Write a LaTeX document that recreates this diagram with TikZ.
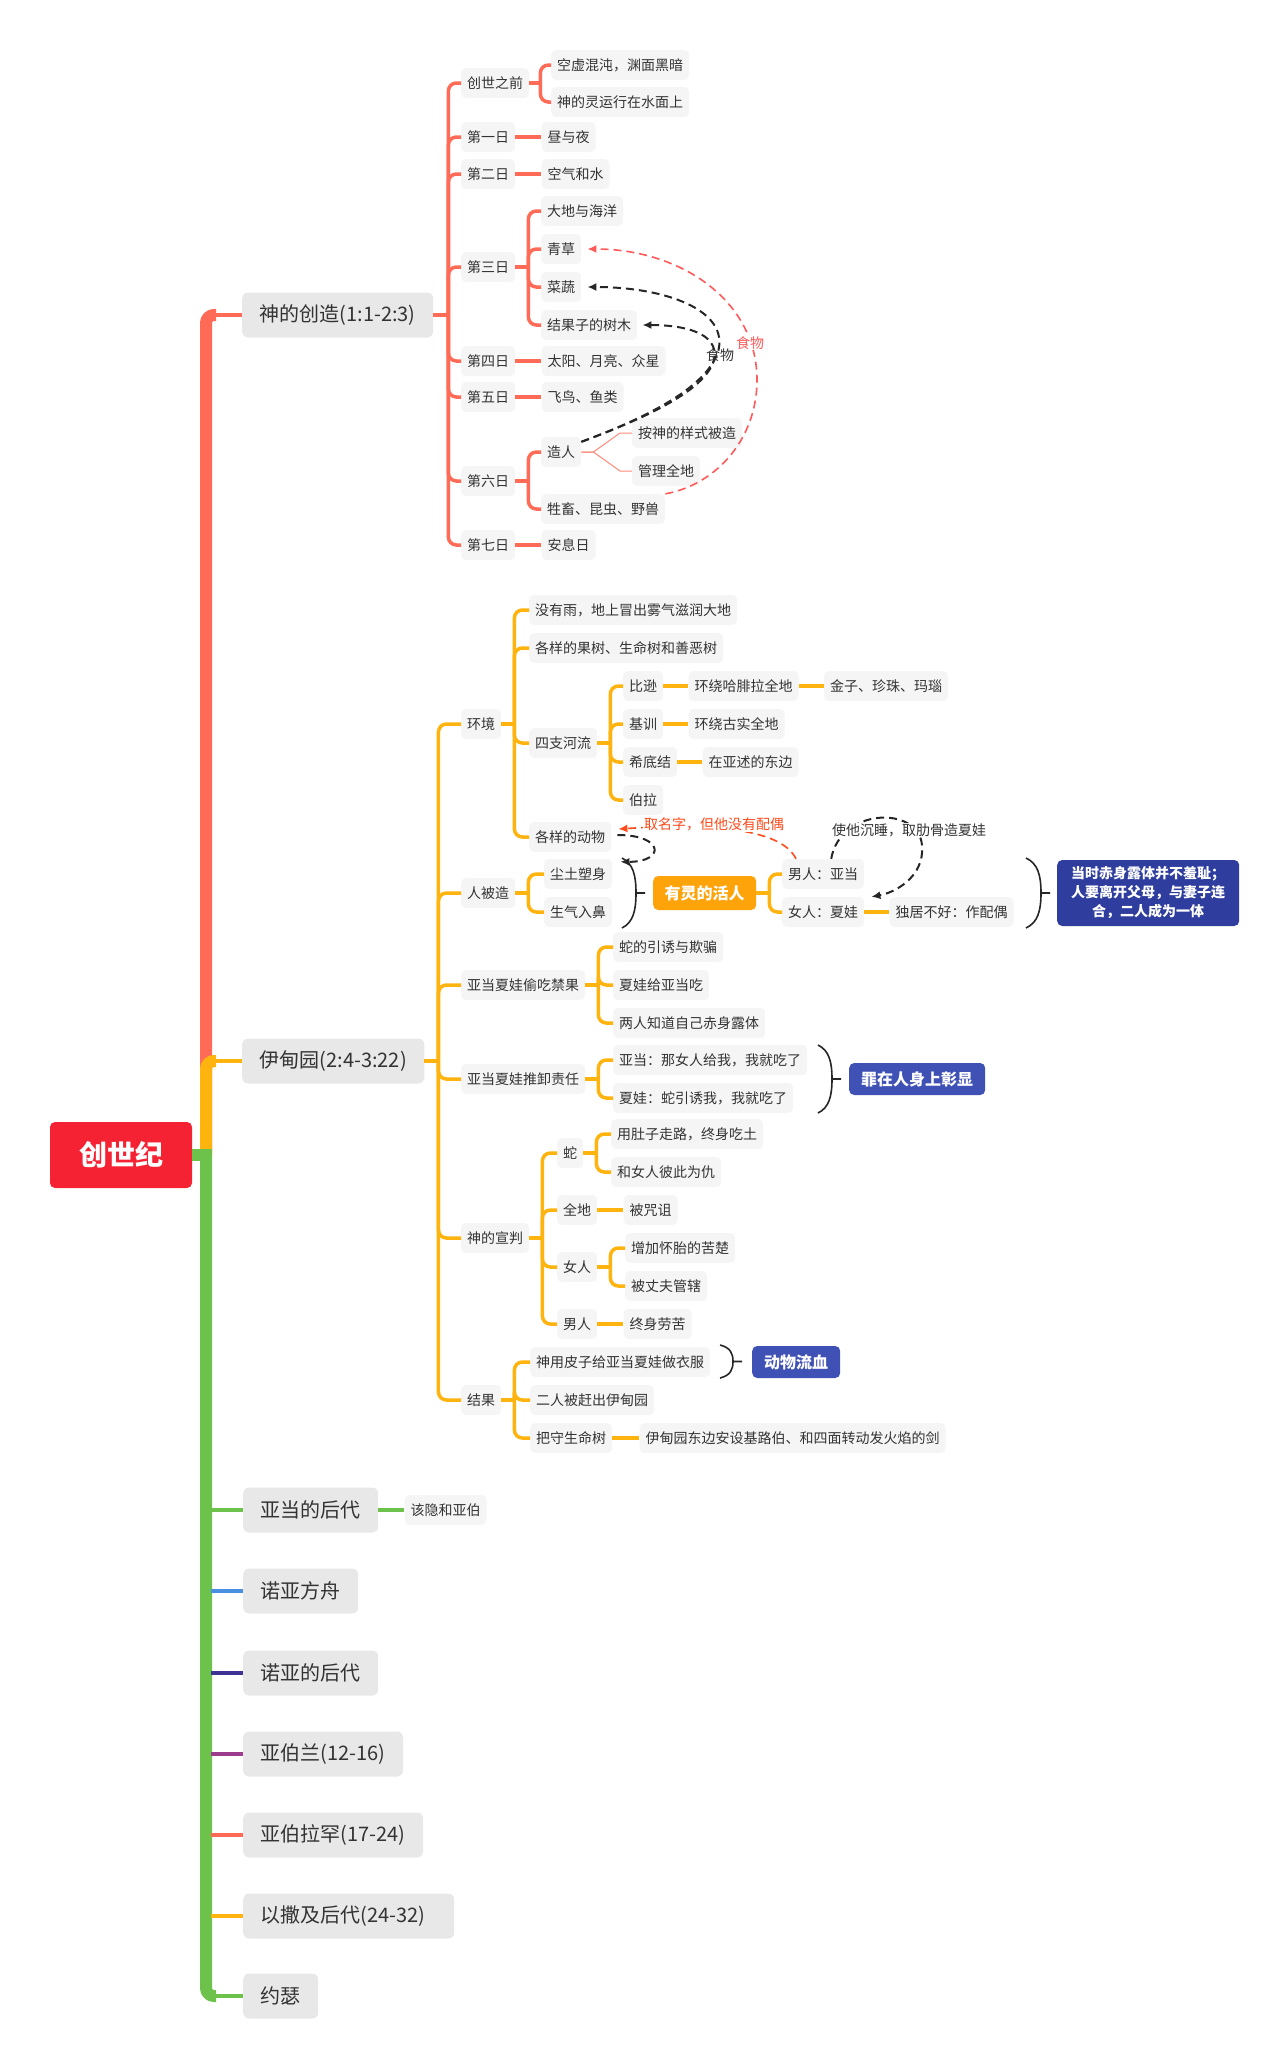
\documentclass[tikz,border=0pt]{standalone}
\usepackage{fontspec}
\setmainfont{Noto Sans CJK SC}
\usetikzlibrary{positioning,arrows.meta,calc}
\definecolor{rootred}{HTML}{F52233}
\definecolor{coral}{HTML}{FF6B57}
\definecolor{amber}{HTML}{FFB30F}
\definecolor{grass}{HTML}{6CC24A}
\definecolor{sky}{HTML}{4A90E2}
\definecolor{ink}{HTML}{3D3394}
\definecolor{plum}{HTML}{9B3D8C}
\definecolor{goldbox}{HTML}{FFA30A}
\definecolor{indigo}{HTML}{3F51B5}
\definecolor{deepblue}{HTML}{2F3E9E}
\definecolor{boxgray}{HTML}{E8E8E8}
\definecolor{leafgray}{HTML}{F5F5F5}
\definecolor{txt}{HTML}{333333}
\definecolor{relred}{HTML}{FF5A5A}
\definecolor{namered}{HTML}{FF4A1A}
\tikzstyle{rootbox}=[rectangle,rounded corners=5pt,fill=rootred,text=white,font=\fontsize{28}{28}\selectfont\bfseries,minimum width=142pt,minimum height=66pt]
\tikzstyle{mainbox}=[rectangle,rounded corners=6pt,fill=boxgray,text=txt,font=\fontsize{20}{24}\selectfont,minimum height=45pt,inner xsep=17.5pt,anchor=west]
\tikzstyle{leaf}=[rectangle,rounded corners=5pt,fill=leafgray,text=txt,font=\fontsize{14}{16}\selectfont,minimum height=30pt,inner xsep=6pt,anchor=west]
\tikzstyle{tag}=[rectangle,rounded corners=5pt,fill=indigo,text=white,font=\fontsize{16}{18}\selectfont\bfseries,minimum height=32pt,inner xsep=12pt,anchor=west]
\tikzstyle{trunk}=[line width=12pt,line join=round]
\tikzstyle{stem}=[line width=4.5pt]
\tikzstyle{twig}=[line width=3.5pt,rounded corners=8pt]
\tikzstyle{hair}=[line width=1pt]
\tikzstyle{rel}=[line width=2pt,dash pattern=on 8pt off 5pt,-{Latex[length=9pt,width=8pt]}]
\tikzstyle{brace}=[line width=1.6pt,black!85]
\tikzstyle{note}=[font=\fontsize{14}{16}\selectfont,inner sep=1pt]

\begin{document}
\begin{tikzpicture}[x=1pt,y=-1pt]
\useasboundingbox (0,0) rectangle (1286,2070);

% root and main branches
\node[rootbox] (root) at (121,1155) {创世纪};
\coordinate (hub) at (206,1155);
\node[mainbox] (b1) at (242,315) {神的创造(1:1-2:3)};
\node[mainbox] (b2) at (242,1061) {伊甸园(2:4-3:22)};
\node[mainbox] (b3) at (243,1510) {亚当的后代};
\node[leaf, right=26pt of b3] (b3a) {该隐和亚伯};
\node[mainbox] (b4) at (243,1591) {诺亚方舟};
\node[mainbox] (b5) at (243,1673) {诺亚的后代};
\node[mainbox] (b6) at (243,1754) {亚伯兰(12-16)};
\node[mainbox] (b7) at (243,1835) {亚伯拉罕(17-24)};
\node[mainbox,text width=176pt,align=left] (b8) at (243,1916) {以撒及后代(24-32)};
\node[mainbox] (b9) at (243,1996) {约瑟};

\draw[trunk,coral,rounded corners=8pt] (hub) |- ([xshift=10pt]hub |- b1.west);
\draw[stem,coral] ([xshift=8pt]hub |- b1.west) -- (b1.west);
\draw[trunk,amber,rounded corners=8pt] (hub) |- ([xshift=10pt]hub |- b2.west);
\draw[stem,amber] ([xshift=8pt]hub |- b2.west) -- (b2.west);
\draw[trunk,grass,rounded corners=8pt] (hub) |- ([xshift=10pt]hub |- b9.west);
\draw[stem,grass] ([xshift=8pt]hub |- b9.west) -- (b9.west);
\foreach \b/\col in {b3/grass,b4/sky,b5/ink,b6/plum,b7/coral,b8/amber}
  \draw[stem,\col] ([xshift=5pt]hub |- \b.west) -- (\b.west);
\draw[trunk,grass] (root.east) -- ([xshift=6pt]hub);
\draw[twig,grass] (b3.east) -- (b3a.west);

% the creation days
\node[leaf] (c0) at (461,83) {创世之前};
\node[leaf] (c0a) at (551,65) {空虚混沌，渊面黑暗};
\node[leaf] (c0b) at (551,102) {神的灵运行在水面上};
\node[leaf] (c1) at (461,137) {第一日};
\node[leaf, right=26pt of c1] (c1a) {昼与夜};
\node[leaf] (c2) at (461,174) {第二日};
\node[leaf, right=26pt of c2] (c2a) {空气和水};
\node[leaf] (c3) at (461,267) {第三日};
\node[leaf] (c3a) at (541,211) {大地与海洋};
\node[leaf] (c3b) at (541,249) {青草};
\node[leaf] (c3c) at (541,287) {菜蔬};
\node[leaf] (c3d) at (541,325) {结果子的树木};
\node[leaf] (c4) at (461,361) {第四日};
\node[leaf, right=26pt of c4] (c4a) {太阳、月亮、众星};
\node[leaf] (c5) at (461,397) {第五日};
\node[leaf, right=26pt of c5] (c5a) {飞鸟、鱼类};
\node[leaf] (c6) at (461,481) {第六日};
\node[leaf] (c6a) at (541,452) {造人};
\node[leaf] (c6b) at (541,509) {牲畜、昆虫、野兽};
\node[leaf] (c6a1) at (632,433) {按神的样式被造};
\node[leaf] (c6a2) at (632,471) {管理全地};
\node[leaf] (c7) at (461,545) {第七日};
\node[leaf, right=26pt of c7] (c7a) {安息日};

\draw[twig,coral] (b1.east) -- ++(15,0);
\foreach \c in {c0,c1,c2,c3,c4,c5,c6,c7}
  \draw[twig,coral] (b1.east) ++(15,0) |- (\c.west);
\draw[twig,coral] (c0.east) -- ++(11,0);
\foreach \c in {c0a,c0b}
  \draw[twig,coral] (c0.east) ++(11,0) |- (\c.west);
\draw[twig,coral] (c3.east) -- ++(13,0);
\foreach \c in {c3a,c3b,c3c,c3d}
  \draw[twig,coral] (c3.east) ++(13,0) |- (\c.west);
\draw[twig,coral] (c6.east) -- ++(13,0);
\foreach \c in {c6a,c6b}
  \draw[twig,coral] (c6.east) ++(13,0) |- (\c.west);
\foreach \a/\c in {c1/c1a,c2/c2a,c4/c4a,c5/c5a,c7/c7a}
  \draw[twig,coral] (\a.east) -- (\c.west);
\foreach \c in {c6a1,c6a2}
  \draw[hair,coral!80] (c6a.east) -- ++(12,0) -- ([xshift=-12pt]\c.west) -- (\c.west);

% food relations
\draw[rel,relred,line width=1.6pt] (c6b.north east) .. controls (715,485) and (757,440) .. (757,380)
  .. controls (757,300) and (680,249) .. ([xshift=6pt]c3b.east);
\draw[rel,black!85] ([yshift=-5pt]c6a.north east) .. controls (640,420) and (705,390) .. (718,352)
  .. controls (730,310) and (665,287) .. ([xshift=6pt]c3c.east);
\draw[rel,black!85] ([yshift=-5pt]c6a.north east) .. controls (640,420) and (705,392) .. (714,360)
  .. controls (720,332) and (682,325) .. ([xshift=5pt]c3d.east);
\node[note,text=relred,fill=white] (fd1) at (750,343) {食物};
\node[note,text=txt] (fd2) at (720,355) {食物};

% the garden of Eden
\node[leaf] (e1) at (461,724) {环境};
\node[leaf] (e1a) at (529,610) {没有雨，地上冒出雾气滋润大地};
\node[leaf] (e1b) at (529,648) {各样的果树、生命树和善恶树};
\node[leaf] (e1c) at (529,743) {四支河流};
\node[leaf] (r1) at (623,686) {比逊};
\node[leaf, right=25pt of r1] (r1a) {环绕哈腓拉全地};
\node[leaf, right=25pt of r1a] (r1b) {金子、珍珠、玛瑙};
\node[leaf] (r2) at (623,724) {基训};
\node[leaf, right=25pt of r2] (r2a) {环绕古实全地};
\node[leaf] (r3) at (623,762) {希底结};
\node[leaf, right=25pt of r3] (r3a) {在亚述的东边};
\node[leaf] (r4) at (623,800) {伯拉};
\node[leaf] (e1d) at (529,837) {各样的动物};

\node[leaf] (e2) at (461,893) {人被造};
\node[leaf] (ct) at (544,874) {尘土塑身};
\node[leaf] (cq) at (544,912) {生气入鼻};
\node[tag,fill=goldbox,minimum height=34pt,inner xsep=11.5pt] (lv) at (653,893) {有灵的活人};
\node[leaf] (mn) at (782,874) {男人：亚当};
\node[leaf] (wn) at (782,912) {女人：夏娃};
\node[leaf, right=25pt of wn] (wn1) {独居不好：作配偶};
\node[tag,fill=deepblue,font=\fontsize{14}{19}\selectfont\bfseries,align=center,minimum width=182pt,minimum height=66pt] (one) at (1057,893) {当时赤身露体并不羞耻；\\人要离开父母，与妻子连\\合，二人成为一体};

\node[leaf] (e3) at (461,985) {亚当夏娃偷吃禁果};
\node[leaf] (s1) at (613,947) {蛇的引诱与欺骗};
\node[leaf] (s2) at (613,985) {夏娃给亚当吃};
\node[leaf] (s3) at (613,1023) {两人知道自己赤身露体};

\node[leaf] (e4) at (461,1079) {亚当夏娃推卸责任};
\node[leaf] (t1) at (613,1060) {亚当：那女人给我，我就吃了};
\node[leaf] (t2) at (613,1098) {夏娃：蛇引诱我，我就吃了};
\node[tag] (sin) at (849,1079) {罪在人身上彰显};

\node[leaf] (e5) at (461,1238) {神的宣判};
\node[leaf] (j1) at (557,1153) {蛇};
\node[leaf] (j1a) at (611,1134) {用肚子走路，终身吃土};
\node[leaf] (j1b) at (611,1172) {和女人彼此为仇};
\node[leaf] (j2) at (557,1210) {全地};
\node[leaf, right=26pt of j2] (j2a) {被咒诅};
\node[leaf] (j3) at (557,1267) {女人};
\node[leaf] (j3a) at (625,1248) {增加怀胎的苦楚};
\node[leaf] (j3b) at (625,1286) {被丈夫管辖};
\node[leaf] (j4) at (557,1324) {男人};
\node[leaf, right=26pt of j4] (j4a) {终身劳苦};

\node[leaf] (e6) at (461,1400) {结果};
\node[leaf] (f1) at (530,1362) {神用皮子给亚当夏娃做衣服};
\node[tag] (blood) at (752,1362) {动物流血};
\node[leaf] (f2) at (530,1400) {二人被赶出伊甸园};
\node[leaf] (f3) at (530,1438) {把守生命树};
\node[leaf, right=27pt of f3] (f3a) {伊甸园东边安设基路伯、和四面转动发火焰的剑};

\draw[twig,amber] (b2.east) -- ++(14,0);
\foreach \c in {e1,e2,e3,e4,e5,e6}
  \draw[twig,amber] (b2.east) ++(14,0) |- (\c.west);
\foreach \p/\kids in {e1/{e1a,e1b,e1c,e1d},e1c/{r1,r2,r3,r4},e2/{ct,cq},lv/{mn,wn},e3/{s1,s2,s3},e4/{t1,t2},e5/{j1,j2,j3,j4},j1/{j1a,j1b},j3/{j3a,j3b},e6/{f1,f2,f3}}{
  \draw[twig,amber] (\p.east) -- ++(13,0);
  \foreach \c in \kids
    \draw[twig,amber] (\p.east) ++(13,0) |- (\c.west);
}
\foreach \a/\c in {r1/r1a,r1a/r1b,r2/r2a,r3/r3a,wn/wn1,j2/j2a,j4/j4a,f3/f3a}
  \draw[twig,amber] (\a.east) -- (\c.west);

% braces in front of the summaries
\foreach \x/\ya/\yb/\d in {622/858/928/14,1026/858/928/15,818/1045/1113/14,720/1345/1378/13}
  \draw[brace] (\x,\ya) .. controls (\x+0.8*\d,\ya+0.08*\yb-0.08*\ya) and (\x+\d,\ya+0.25*\yb-0.25*\ya) .. (\x+\d,0.5*\ya+0.5*\yb)
    .. controls (\x+\d,0.25*\ya+0.75*\yb) and (\x+0.8*\d,0.08*\ya+0.92*\yb) .. (\x,\yb)
    (\x+\d,0.5*\ya+0.5*\yb) -- ++(9,0);

% relations around Adam and Eve
\draw[rel,namered,line width=1.6pt] ([xshift=14pt]mn.north west) .. controls (780,826) and (700,824) .. ([xshift=7pt,yshift=8pt]e1d.east);
\node[note,text=namered,fill=white] (nm) at (714,824) {取名字，但他没有配偶};
\draw[rel,black!85] ([xshift=6pt,yshift=2pt]e1d.east) .. controls (665,835) and (665,862) .. ([xshift=8pt,yshift=-3pt]ct.north east);
\draw[rel,black!85] ([xshift=8pt]mn.north) .. controls (840,808) and (918,805) .. (922,845)
  .. controls (925,878) and (893,893) .. ([xshift=7pt]wn.north east);
\node[note,text=txt,fill=white,inner sep=0pt] (rib) at (909,830) {使他沉睡，取肋骨造夏娃};
\end{tikzpicture}
\end{document}
